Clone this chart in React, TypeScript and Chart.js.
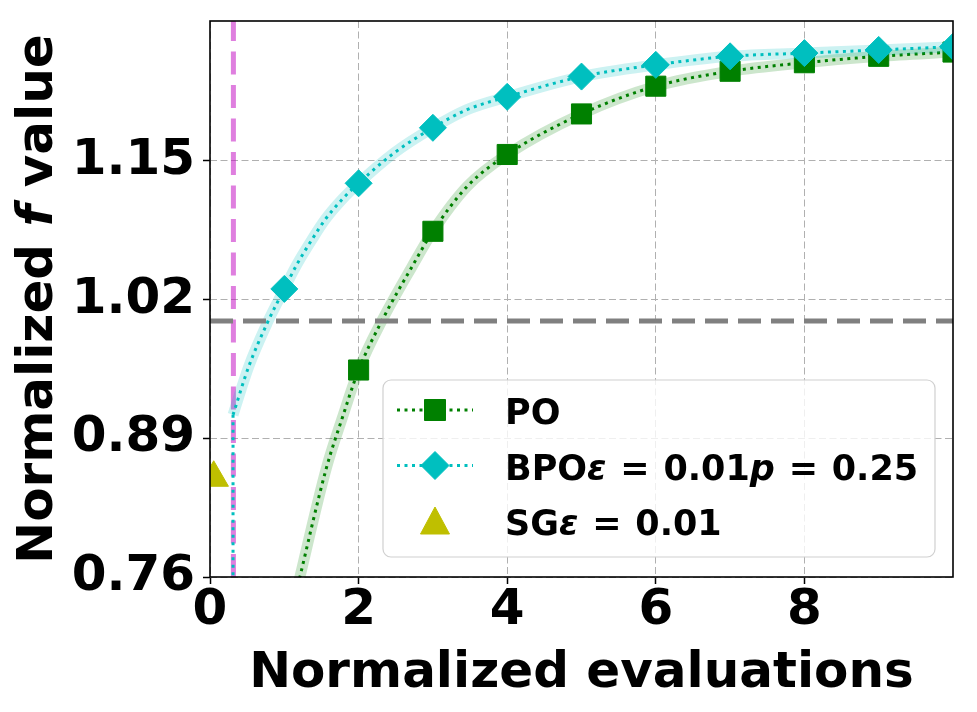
import React, { useEffect, useRef } from 'react';
import { Chart, registerables } from 'chart.js';

Chart.register(...registerables);

// ---- axes ----
const xTickValues = [0, 2, 4, 6, 8];
const yTickValues = [0.76, 0.89, 1.02, 1.15];
const xMin = 0;
const xMax = 10;
const yMin = 0.76;
const yMax = 1.2811;

// ---- PO (green squares) ----
const poX = [2, 3, 4, 5, 6, 7, 8, 9, 10];
const poY = [0.954, 1.084, 1.156, 1.194, 1.22, 1.234, 1.242, 1.248, 1.252];
const poMidX = [1.0, 1.21, 1.57, 1.78, 2.32, 2.72, 3.46];
const poMidY = [0.697, 0.76, 0.863, 0.909, 1.001, 1.051, 1.126];

// ---- BPO (cyan diamonds) ----
const bpoX = [1, 2, 3, 4, 5, 6, 7, 8, 9, 10];
const bpoY = [1.03, 1.129, 1.181, 1.21, 1.229, 1.24, 1.248, 1.251, 1.254, 1.257];
const bpoMidX = [0.31, 0.52, 0.77, 1.17, 1.37, 1.55, 1.78, 2.47, 3.46];
const bpoMidY = [0.912, 0.957, 0.998, 1.053, 1.076, 1.095, 1.114, 1.157, 1.198];
const bpoDropX = [0.31, 0.31];
const bpoDropY = [0.6, 0.912];

// ---- SG (olive triangle) ----
const sgX = [0.05];
const sgY = [0.853];

// ---- reference lines ----
const referenceY = 1.0;
const budgetX = 0.315;

// ---- text ----
const xTitle = 'Normalized evaluations';
const yTitle: [string, boolean][] = [['Normalized ', false], ['f', true], [' value', false]];
const legendRows: { label: [string, boolean][]; color: string; marker: string; line: boolean }[] = [
  { label: [['PO', false]], color: '#008000', marker: 'square', line: true },
  {
    label: [['BPO', false], ['ε', true], [' = 0.01', false], ['p', true], [' = 0.25', false]],
    color: '#00bfbf',
    marker: 'diamond',
    line: true,
  },
  { label: [['SG', false], ['ε', true], [' = 0.01', false]], color: '#bfbf00', marker: 'triangle', line: false },
];

const FAMILY = '"DejaVu Sans"';

function pts(xs: number[], ys: number[]) {
  return xs.map((x, i) => ({ x, y: ys[i] }));
}
function merged(ax: number[], ay: number[], bx: number[], by: number[]) {
  return [...pts(ax, ay), ...pts(bx, by)].sort((a, b) => a.x - b.x);
}

function richWidth(ctx: CanvasRenderingContext2D, segs: [string, boolean][], size: number) {
  let w = 0;
  for (const [t, it] of segs) {
    ctx.font = `${it ? 'italic ' : ''}bold ${size}px ${FAMILY}`;
    w += ctx.measureText(t).width;
  }
  return w;
}
// draws text runs; "=" gets a little extra room on both sides (like mathtext)
function richDraw(
  ctx: CanvasRenderingContext2D,
  segs: [string, boolean][],
  size: number,
  x: number,
  y: number,
  eqPad = 0
) {
  let cx = x;
  for (const [t, it] of segs) {
    ctx.font = `${it ? 'italic ' : ''}bold ${size}px ${FAMILY}`;
    const parts = eqPad ? t.split('=') : [t];
    parts.forEach((p, k) => {
      if (k > 0) {
        cx += eqPad;
        ctx.fillText('=', cx, y);
        cx += ctx.measureText('=').width + eqPad;
      }
      ctx.fillText(p, cx, y);
      cx += ctx.measureText(p).width;
    });
  }
}

function drawMarker(ctx: CanvasRenderingContext2D, kind: string, cx: number, cy: number, color: string) {
  ctx.save();
  ctx.fillStyle = color;
  ctx.strokeStyle = color;
  ctx.lineWidth = 1;
  ctx.beginPath();
  if (kind === 'square') {
    ctx.rect(cx - 10.5, cy - 10.5, 21, 21);
  } else if (kind === 'diamond') {
    ctx.moveTo(cx - 14, cy);
    ctx.lineTo(cx, cy - 14);
    ctx.lineTo(cx + 14, cy);
    ctx.lineTo(cx, cy + 14);
    ctx.closePath();
  } else {
    ctx.moveTo(cx, cy - 14);
    ctx.lineTo(cx + 14.5, cy + 13);
    ctx.lineTo(cx - 14.5, cy + 13);
    ctx.closePath();
  }
  ctx.fill();
  ctx.stroke();
  ctx.restore();
}

const decorPlugin = {
  id: 'decor',
  afterDatasetsDraw(chart: any) {
    const { ctx, chartArea } = chart;
    ctx.save();
    ctx.strokeStyle = '#000';
    ctx.lineWidth = 1.6;
    ctx.strokeRect(chartArea.left, chartArea.top, chartArea.right - chartArea.left, chartArea.bottom - chartArea.top);
    ctx.restore();
  },
  afterDraw(chart: any) {
    const { ctx, chartArea } = chart;
    ctx.save();
    ctx.fillStyle = '#000';
    ctx.textBaseline = 'alphabetic';
    // x title
    ctx.font = `bold 50px ${FAMILY}`;
    ctx.textAlign = 'center';
    ctx.fillText(xTitle, (chartArea.left + chartArea.right) / 2, 687);
    // y title
    ctx.textAlign = 'left';
    const w = richWidth(ctx, yTitle, 50);
    ctx.save();
    ctx.translate(52, (chartArea.top + chartArea.bottom) / 2);
    ctx.rotate(-Math.PI / 2);
    richDraw(ctx, yTitle, 50, -w / 2, 0);
    ctx.restore();

    // legend box
    const bx = 383, by = 380, bw = 552, bh = 177, r = 8;
    ctx.beginPath();
    ctx.moveTo(bx + r, by);
    ctx.arcTo(bx + bw, by, bx + bw, by + bh, r);
    ctx.arcTo(bx + bw, by + bh, bx, by + bh, r);
    ctx.arcTo(bx, by + bh, bx, by, r);
    ctx.arcTo(bx, by, bx + bw, by, r);
    ctx.closePath();
    ctx.fillStyle = 'rgba(255,255,255,0.8)';
    ctx.fill();
    ctx.strokeStyle = '#d0d0d0';
    ctx.lineWidth = 1.2;
    ctx.stroke();

    const baselines = [424, 479.5, 535];
    legendRows.forEach((row, i) => {
      const cy = baselines[i] - 14;
      if (row.line) {
        ctx.save();
        ctx.strokeStyle = row.color;
        ctx.lineWidth = 3;
        ctx.setLineDash([3, 4.5]);
        ctx.beginPath();
        ctx.moveTo(397, cy);
        ctx.lineTo(473, cy);
        ctx.stroke();
        ctx.restore();
      }
      drawMarker(ctx, row.marker, 435, cy, row.color);
      ctx.fillStyle = '#000';
      richDraw(ctx, row.label, 35, 505, baselines[i], 1.6);
    });
    ctx.restore();
  },
};

function zeroPadding(scale: any) {
  scale.paddingTop = 0;
  scale.paddingBottom = 0;
  scale.paddingLeft = 0;
  scale.paddingRight = 0;
}

export default function App() {
  const ref = useRef<HTMLCanvasElement | null>(null);

  useEffect(() => {
    if (!ref.current) return;
    const poCurve = merged(poX, poY, poMidX, poMidY);
    const bpoCurve = merged(bpoX, bpoY, bpoMidX, bpoMidY);

    const lineBase = {
      pointRadius: 0,
      fill: false,
      clip: 0,
      cubicInterpolationMode: 'monotone' as const,
    };

    const chart = new Chart(ref.current, {
      type: 'line',
      data: {
        datasets: [
          // SG triangle
          {
            data: pts(sgX, sgY),
            showLine: false,
            pointStyle: 'triangle',
            pointRadius: 17,
            pointBackgroundColor: '#bfbf00',
            pointBorderColor: '#bfbf00',
            pointBorderWidth: 1,
            clip: 0,
            order: 0,
          },
          // reference horizontal line
          {
            data: [
              { x: xMin, y: referenceY },
              { x: xMax, y: referenceY },
            ],
            borderColor: '#808080',
            borderWidth: 5,
            borderDash: [23, 10],
            pointRadius: 0,
            clip: 0,
            order: 1,
          },
          // BPO markers
          {
            data: pts(bpoX, bpoY),
            showLine: false,
            pointStyle: 'rectRot',
            pointRadius: 13.5,
            pointBackgroundColor: '#00bfbf',
            pointBorderColor: '#00bfbf',
            pointBorderWidth: 1,
            clip: 0,
            order: 2,
          },
          // BPO dotted curve
          {
            ...lineBase,
            data: bpoCurve,
            borderColor: '#00bfbf',
            borderWidth: 3,
            borderDash: [3, 4.5],
            order: 3,
          },
          {
            data: pts(bpoDropX, bpoDropY),
            borderColor: '#00bfbf',
            borderWidth: 3,
            borderDash: [3, 4.5],
            pointRadius: 0,
            clip: 0,
            order: 3,
          },
          // BPO band
          {
            ...lineBase,
            data: bpoCurve,
            borderColor: 'rgba(0,191,191,0.2)',
            borderWidth: 11,
            borderJoinStyle: 'round',
            order: 4,
          },
          // PO markers
          {
            data: pts(poX, poY),
            showLine: false,
            pointStyle: 'rect',
            pointRadius: 14.2,
            pointBackgroundColor: '#008000',
            pointBorderColor: '#008000',
            pointBorderWidth: 1,
            clip: 0,
            order: 5,
          },
          // PO dotted curve
          {
            ...lineBase,
            data: poCurve,
            borderColor: '#008000',
            borderWidth: 3,
            borderDash: [3, 4.5],
            order: 6,
          },
          // PO band
          {
            ...lineBase,
            data: poCurve,
            borderColor: 'rgba(0,128,0,0.2)',
            borderWidth: 11,
            borderJoinStyle: 'round',
            order: 7,
          },
          // budget vertical line
          {
            data: [
              { x: budgetX, y: yMin },
              { x: budgetX, y: yMax },
            ],
            borderColor: 'rgba(191,0,191,0.5)',
            borderWidth: 5,
            borderDash: [23, 10.5],
            pointRadius: 0,
            clip: 0,
            order: 8,
          },
        ] as any,
      },
      options: {
        responsive: false,
        animation: false,
        events: [],
        layout: { padding: { top: 21, right: 24, left: 0, bottom: 0 } },
        plugins: { legend: { display: false }, tooltip: { enabled: false }, title: { display: false } },
        scales: {
          x: {
            type: 'linear',
            min: xMin,
            max: xMax,
            afterBuildTicks: (scale: any) => {
              scale.ticks = xTickValues.map((v) => ({ value: v }));
            },
            afterFit: (scale: any) => {
              scale.height = 135;
              zeroPadding(scale);
            },
            grid: {
              color: '#b0b0b0',
              lineWidth: 1,
              tickLength: 7,
              tickColor: '#000',
              tickWidth: 1.5,
              tickBorderDash: [],
            },
            border: { display: false, dash: [7, 3.5] },
            ticks: {
              color: '#000',
              padding: 0,
              maxRotation: 0,
              autoSkip: false,
              font: { family: FAMILY, size: 50, weight: 'bold', lineHeight: 1.1 },
              callback: (v: any) => String(v),
            },
          },
          y: {
            type: 'linear',
            min: yMin,
            max: yMax,
            afterBuildTicks: (scale: any) => {
              scale.ticks = yTickValues.map((v) => ({ value: v }));
            },
            afterFit: (scale: any) => {
              scale.width = 210;
              zeroPadding(scale);
            },
            grid: {
              color: '#b0b0b0',
              lineWidth: 1,
              tickLength: 7,
              tickColor: '#000',
              tickWidth: 1.5,
              tickBorderDash: [],
            },
            border: { display: false, dash: [7, 3.5] },
            ticks: {
              color: '#000',
              padding: 8,
              autoSkip: false,
              font: { family: FAMILY, size: 50, weight: 'bold', lineHeight: 1.1 },
              callback: (v: any) => Number(v).toFixed(2),
            },
          },
        },
      } as any,
      plugins: [decorPlugin],
    });
    return () => chart.destroy();
  }, []);

  return (
    <div style={{ position: 'fixed', left: 0, top: 0, width: 977, height: 712, background: '#fff' }}>
      <canvas ref={ref} width={977} height={712} />
    </div>
  );
}
